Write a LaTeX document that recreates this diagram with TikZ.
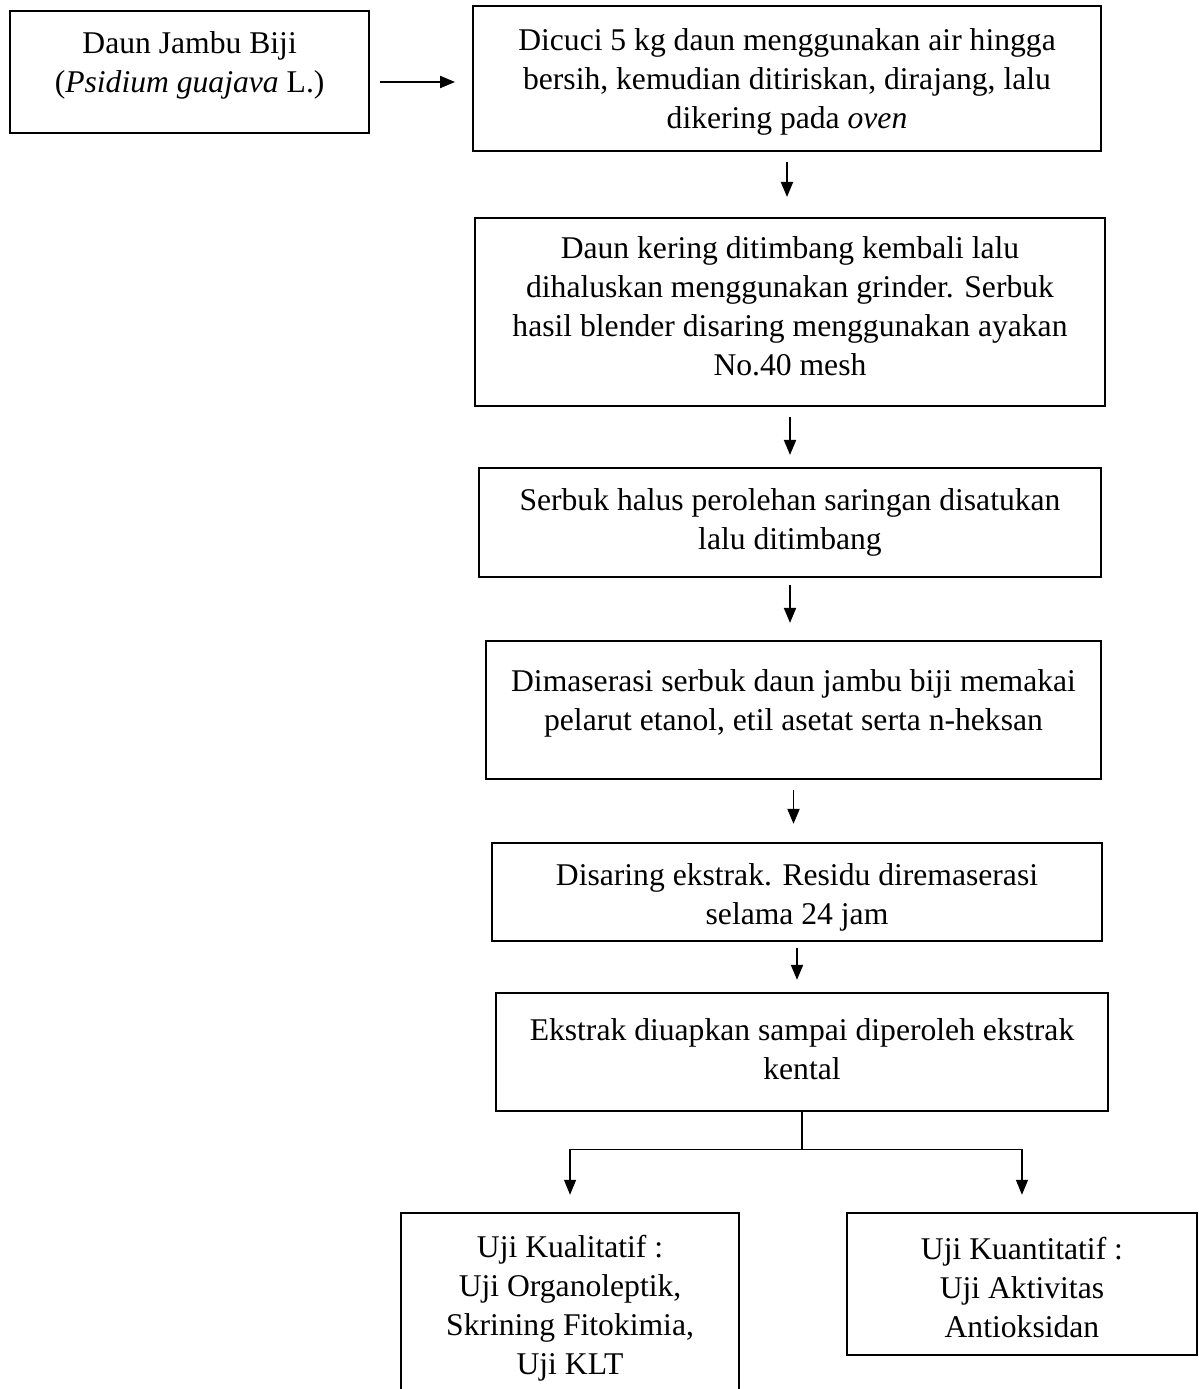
\documentclass[tikz,border=0pt]{standalone}
\usepackage{fontspec}
\setmainfont{Liberation Serif}
\usetikzlibrary{arrows.meta}
\usetikzlibrary{positioning}

\begin{document}
\begin{tikzpicture}[x=0.02cm,y=-0.02cm]
        \tikzset{
          >={Triangle[length=0.3cm,width=0.24cm]},
          every node/.style={font=\fontsize{18}{22.2}\selectfont},
          step box/.style={
            draw,
            line width=1.1pt,
            align=center,
            inner sep=0pt,
            outer sep=0pt,
          },
          flow/.style={->, line width=1.1pt, shorten <=0.22cm, shorten >=0.3cm},
          fork line/.style={line width=0.7pt},
        }
        \useasboundingbox (0,0) rectangle (1198,1389);

        \node[step box, minimum width=12.56cm, minimum height=2.9cm, text height=2.15cm] (wash) at (787,78.5)
          {Dicuci 5 kg daun menggunakan air hingga\\bersih, kemudian ditiriskan, dirajang, lalu\\dikering pada \textit{oven}};
        \node[step box, minimum width=7.18cm, minimum height=2.44cm, text depth=0.4cm, left=2.08cm of wash, yshift=0.13cm] (leaf)
          {Daun Jambu Biji\\(\textit{Psidium guajava} L.)};
        \node[step box, minimum width=12.6cm, minimum height=3.76cm, text depth=0.22cm, below=1.34cm of wash, xshift=0.06cm] (grind)
          {Daun kering ditimbang kembali lalu\\dihaluskan menggunakan grinder. Serbuk\\hasil blender disaring menggunakan ayakan\\No.40 mesh};
        \node[step box, minimum width=12.44cm, minimum height=2.18cm, below=1.24cm of grind] (weigh)
          {Serbuk halus perolehan saringan disatukan\\lalu ditimbang};
        \node[step box, minimum width=12.3cm, minimum height=2.76cm, text depth=0.4cm, below=1.28cm of weigh, xshift=0.07cm] (macerate)
          {Dimaserasi serbuk daun jambu biji memakai\\pelarut etanol, etil asetat serta n-heksan};
        \node[step box, minimum width=12.2cm, minimum height=1.96cm, text height=1.43cm, below=1.28cm of macerate, xshift=0.07cm] (filter)
          {Disaring ekstrak. Residu diremaserasi\\selama 24 jam};
        \node[step box, minimum width=12.24cm, minimum height=2.36cm, text depth=0.12cm, below=1.04cm of filter, xshift=0.1cm] (extract)
          {Ekstrak diuapkan sampai diperoleh ekstrak\\kental};
        \node[step box, minimum width=6.76cm, minimum height=3.74cm, text height=2.87cm, below=2.04cm of extract, xshift=-4.64cm] (qual)
          {Uji Kualitatif :\\Uji Organoleptik,\\Skrining Fitokimia,\\Uji KLT};
        \node[step box, minimum width=7cm, minimum height=2.84cm, text height=2.15cm, below=2.04cm of extract, xshift=4.4cm] (quant)
          {Uji Kuantitatif :\\Uji Aktivitas\\Antioksidan};
        \coordinate[below=0.78cm of extract] (fork);

        \draw[flow, shorten >=0.36cm] ([yshift=-0.2cm]leaf.east) -- ([yshift=-0.2cm]leaf.east -| wash.west);
        \draw[flow, shorten >=0.42cm] (wash.south) -- (wash.south |- grind.north);
        \draw[flow, shorten >=0.26cm] (grind.south) -- (grind.south |- weigh.north);
        \draw[flow, shorten <=0.16cm, shorten >=0.36cm] (weigh.south) -- (weigh.south |- macerate.north);
        \draw[flow, shorten >=0.38cm] (macerate.south) -- (macerate.south |- filter.north);
        \draw[flow, shorten <=0.14cm, shorten >=0.26cm] (filter.south) -- (filter.south |- extract.north);
        \draw[fork line] (extract.south) -- (fork);
        \draw[flow, fork line, shorten <=0pt, shorten >=0.36cm] (fork) -| (qual.north);
        \draw[flow, fork line, shorten <=0pt, shorten >=0.36cm] (fork) -| (quant.north);
\end{tikzpicture}
\end{document}
